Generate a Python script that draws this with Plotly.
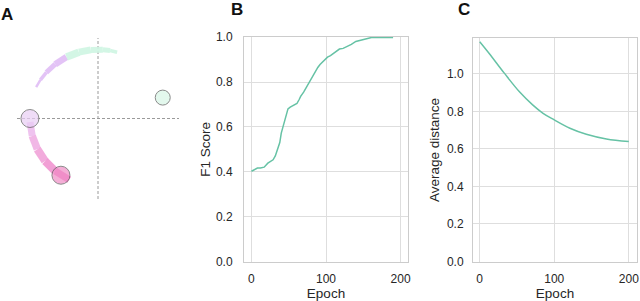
import numpy as np
import plotly.graph_objects as go

# ---------------- data ----------------
# Panel A: embedding on unit circle (angles in degrees)
top_lav_angles = [153, 146, 138, 128, 117]
top_lav_widths = [2.5, 3.5, 5, 6.5]
top_grn_angles = [117, 106, 96, 86, 80, 74]
top_grn_widths = [7.5, 7, 6, 5, 3.5]
bot_angles = [183, 195, 207, 219, 231, 245]
bot_colors = ["rgba(236,184,236,0.85)", "rgba(238,170,226,0.85)", "rgba(240,156,214,0.85)",
              "rgba(240,142,206,0.85)", "rgba(240,130,198,0.85)"]
bot_widths = [7, 7.5, 8, 8, 7]
circle_angles = [180, 237, 18]
circle_colors = ["#e9cef5", "#f08cc6", "#d8f6e6"]
circle_sizes = [18, 18, 15]

# Panel B: F1 score vs epoch
f1_epoch = [0, 4, 8, 12, 17, 22, 26, 29, 32, 35, 38, 40, 43, 45, 47, 49, 52, 55, 58, 61,
            64, 66, 70, 73, 77, 80, 85, 89, 92, 96, 99, 102, 106, 109, 113, 118, 123, 129,
            134, 140, 146, 152, 157, 161, 170, 180, 190]
f1_score = [0.402, 0.410, 0.416, 0.416, 0.420, 0.438, 0.446, 0.453, 0.470, 0.498, 0.530,
            0.572, 0.610, 0.635, 0.660, 0.680, 0.688, 0.694, 0.697, 0.704, 0.722, 0.736,
            0.755, 0.773, 0.795, 0.813, 0.840, 0.865, 0.878, 0.891, 0.902, 0.911, 0.918,
            0.925, 0.938, 0.947, 0.950, 0.958, 0.968, 0.981, 0.985, 0.991, 0.995, 0.998,
            0.999, 0.999, 0.999]

# Panel C: average distance vs epoch
dist_epoch = [0, 13, 33, 53, 71, 85, 100, 121, 143, 170, 200]
dist_value = [1.172, 1.108, 1.004, 0.906, 0.835, 0.790, 0.755, 0.710, 0.678, 0.653, 0.639]

LINE_COLOR = "#66c2a5"
FONT = "Liberation Sans, Arial, sans-serif"
TXT = "#262626"
GRID = "#dedede"
FRAME = "#cccccc"

fig = go.Figure()

def polar(angles, r=1.0):
    a = np.radians(np.array(angles, dtype=float))
    return r * np.cos(a), r * np.sin(a)

# top arc (lavender then green)
for i in range(len(top_lav_widths)):
    x, y = polar(top_lav_angles[i:i + 2], 1.02)
    fig.add_trace(go.Scatter(x=x, y=y, mode="lines", xaxis="x", yaxis="y",
                             line=dict(color="rgba(222,184,245,0.85)", width=top_lav_widths[i]),
                             hoverinfo="skip", showlegend=False))
for i in range(len(top_grn_widths)):
    x, y = polar(top_grn_angles[i:i + 2], 1.02)
    fig.add_trace(go.Scatter(x=x, y=y, mode="lines", xaxis="x", yaxis="y",
                             line=dict(color="rgba(206,245,226,0.9)", width=top_grn_widths[i]),
                             hoverinfo="skip", showlegend=False))
# bottom arc
for i in range(len(bot_widths)):
    x, y = polar(bot_angles[i:i + 2], 1.0)
    fig.add_trace(go.Scatter(x=x, y=y, mode="lines", xaxis="x", yaxis="y",
                             line=dict(color=bot_colors[i], width=bot_widths[i]),
                             hoverinfo="skip", showlegend=False))
# circles
cx, cy = polar(circle_angles, 1.0)
fig.add_trace(go.Scatter(x=cx, y=cy, mode="markers", xaxis="x", yaxis="y",
                         marker=dict(color=circle_colors, size=circle_sizes,
                                     line=dict(color="#5a5a5a", width=1)),
                         hoverinfo="skip", showlegend=False))

# Panel B
fig.add_trace(go.Scatter(x=f1_epoch, y=f1_score, mode="lines", xaxis="x2", yaxis="y2",
                         line=dict(color=LINE_COLOR, width=1.5), showlegend=False))
# Panel C
fig.add_trace(go.Scatter(x=dist_epoch, y=dist_value, mode="lines", xaxis="x3", yaxis="y3",
                         line=dict(color=LINE_COLOR, width=1.5, shape="spline"), showlegend=False))

W, H = 640, 301
def px_x(a, b):
    return [a / W, b / W]
def px_y(top, bottom):
    return [1 - bottom / H, 1 - top / H]

R = 1.19
common = dict(showgrid=True, gridcolor=GRID, zeroline=False, automargin=False,
              showline=True, mirror=True, linecolor=FRAME, linewidth=1,
              tickcolor="rgba(0,0,0,0)", ticks="outside",
              tickfont=dict(size=12, color=TXT), fixedrange=True)
fig.update_layout(
    width=W, height=H, margin=dict(l=0, r=0, t=0, b=0, autoexpand=False),
    paper_bgcolor="white", plot_bgcolor="white",
    font=dict(family=FONT, color=TXT, size=12),
    xaxis=dict(domain=px_x(17, 179), range=[-R, R], visible=False, fixedrange=True, automargin=False),
    yaxis=dict(domain=px_y(38, 199), range=[-R, R], visible=False, fixedrange=True, automargin=False),
    xaxis2=dict(domain=px_x(244, 408), range=[-10, 210], tickvals=[0, 100, 200], ticklen=6,
                title=dict(text="Epoch", font=dict(size=13.5, color=TXT), standoff=2),
                anchor="y2", **common),
    yaxis2=dict(domain=px_y(36.5, 262), range=[-0.003, 1.003], tickvals=[0, 0.2, 0.4, 0.6, 0.8, 1.0],
                tickformat=".1f", ticklen=8,
                title=dict(text="F1 Score", font=dict(size=13.5, color=TXT), standoff=2),
                anchor="x2", **common),
    xaxis3=dict(domain=px_x(473, 637), range=[-9, 211], tickvals=[0, 100, 200], ticklen=6,
                title=dict(text="Epoch", font=dict(size=13.5, color=TXT), standoff=2),
                anchor="y3", **common),
    yaxis3=dict(domain=px_y(38.3, 261.7), range=[-0.002, 1.19], tickvals=[0, 0.2, 0.4, 0.6, 0.8, 1.0],
                tickformat=".1f", ticklen=6,
                title=dict(text="Average distance", font=dict(size=13.5, color=TXT), standoff=4),
                anchor="x3", **common),
)

# dashed crosshair in panel A
fig.add_shape(type="line", xref="x", yref="y", x0=-R, x1=R, y0=0, y1=0,
              line=dict(color="#9a9a9a", width=1, dash="3px,2px"), layer="below")
fig.add_shape(type="line", xref="x", yref="y", x0=0, x1=0, y0=-R, y1=R,
              line=dict(color="#9a9a9a", width=1, dash="3px,2px"), layer="below")

# panel letters
for txt, xp, yp in [("A", 0, 14.5), ("B", 230, 9.5), ("C", 457, 9.5)]:
    fig.add_annotation(text="<b>%s</b>" % txt, x=xp / W, y=1 - yp / H, xref="paper", yref="paper",
                       xanchor="left", yanchor="middle", showarrow=False, borderpad=0,
                       font=dict(size=17, color="#111111", family=FONT))

fig.write_html("out.html", config={"displayModeBar": False},
               post_script="document.body.style.margin='0';document.body.style.overflow='hidden';")
